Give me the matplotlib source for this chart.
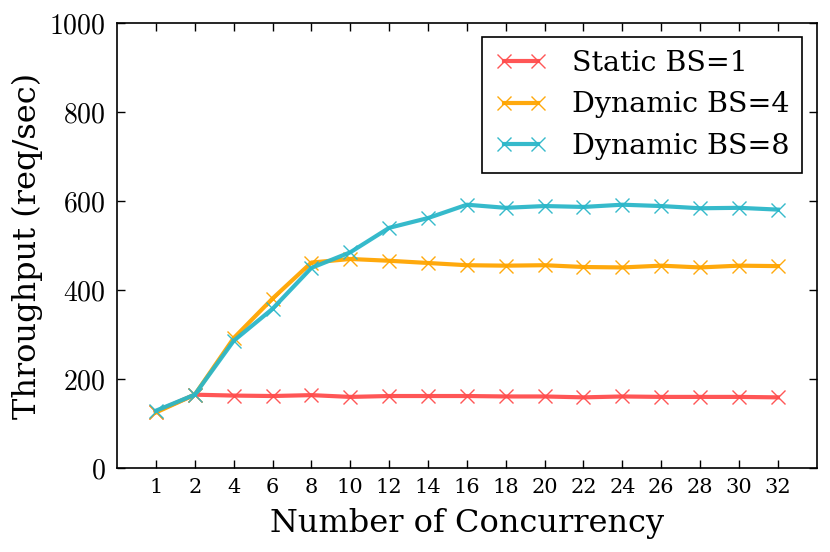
import numpy as np
import matplotlib
matplotlib.use("Agg")
import matplotlib.pyplot as plt

# datos
concurrency = ['1', '2', '4', '6', '8', '10', '12', '14', '16',
               '18', '20', '22', '24', '26', '28', '30', '32']
static_bs1 = [127, 165, 163, 162, 164, 160, 162, 162, 162,
              161, 161, 159, 161, 160, 160, 160, 159]
dynamic_bs4 = [125, 165, 292, 381, 462, 470, 466, 461, 456,
               455, 456, 452, 451, 455, 451, 455, 454]
dynamic_bs8 = [129, 165, 286, 358, 450, 485, 540, 562, 592,
               585, 589, 587, 592, 589, 584, 585, 581]
y_ticks = [0, 200, 400, 600, 800, 1000]

plt.rcParams['font.family'] = 'DejaVu Serif'
plt.rcParams['mathtext.fontset'] = 'cm'

fig = plt.figure(figsize=(8.3, 5.52), dpi=100)
ax = fig.add_axes([0.141, 0.152, 0.843, 0.806])

x = np.arange(len(concurrency))
ax.plot(x, static_bs1, color='#ff4d4d', lw=3, marker='x', ms=10, mew=1, alpha=0.95, label='Static BS=1')
ax.plot(x, dynamic_bs4, color='#ffa500', lw=3, marker='x', ms=10, mew=1, alpha=0.95, label='Dynamic BS=4')
ax.plot(x, dynamic_bs8, color='#2bb7c9', lw=3, marker='x', ms=10, mew=1, alpha=0.95, label='Dynamic BS=8')

ax.set_xlim(-1, len(concurrency))
ax.set_ylim(0, 1000)
ax.set_xticks(x)
ax.set_xticklabels(concurrency, fontsize=15)
ax.set_yticks(y_ticks)
ax.set_yticklabels(['$%d$' % v for v in y_ticks], fontsize=20)
ax.tick_params(direction='in', top=True, right=True, length=6, width=1)
ax.tick_params(axis='x', pad=7)
ax.tick_params(axis='y', pad=8)
for s in ax.spines.values():
    s.set_linewidth(1.2)

ax.set_xlabel('Number of Concurrency', fontsize=23, labelpad=8)
ax.set_ylabel('Throughput (req/sec)', fontsize=23, labelpad=5)

leg = ax.legend(loc='upper right', fontsize=20.5, fancybox=False, framealpha=1,
                edgecolor='black', borderaxespad=0.5, handlelength=1.8,
                handletextpad=0.9, numpoints=2, borderpad=0.45)
leg.get_frame().set_linewidth(1.2)

fig.savefig('out.png', dpi=100)
